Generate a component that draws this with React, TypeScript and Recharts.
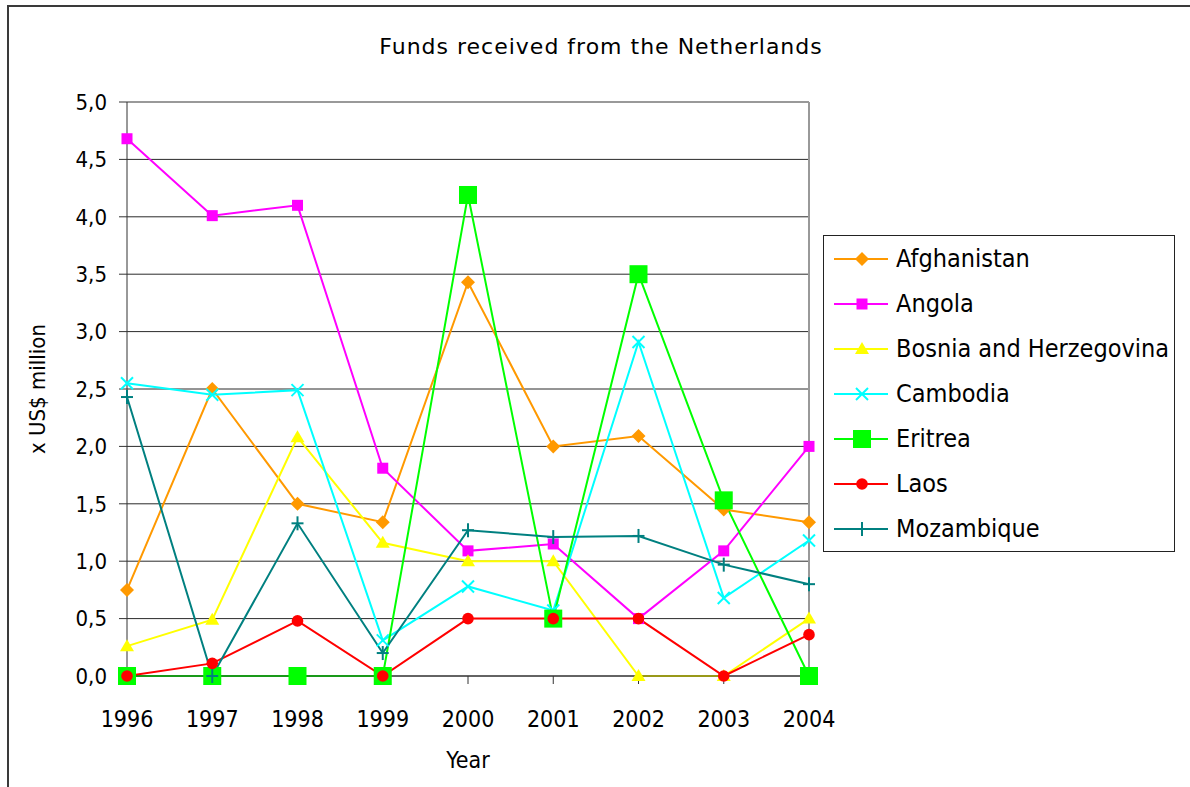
import React from 'react'
import {
  LineChart,
  Line,
  XAxis,
  YAxis,
  CartesianGrid,
  Legend,
  ReferenceLine,
} from 'recharts'

// data (x US$ million)
const years = ['1996', '1997', '1998', '1999', '2000', '2001', '2002', '2003', '2004']
const afghanistan = [0.75, 2.5, 1.5, 1.34, 3.43, 2.0, 2.09, 1.45, 1.34]
const angola = [4.68, 4.01, 4.1, 1.81, 1.09, 1.15, 0.5, 1.09, 2.0]
const bosnia = [0.26, 0.49, 2.08, 1.16, 1.0, 1.0, 0, 0, 0.5]
const cambodia = [2.55, 2.45, 2.49, 0.31, 0.78, 0.57, 2.91, 0.68, 1.18]
const eritrea = [0, 0, 0, 0, 4.19, 0.5, 3.5, 1.53, 0]
const laos = [0, 0.11, 0.48, 0, 0.5, 0.5, 0.5, 0, 0.36]
const mozambique = [2.43, 0, 1.33, 0.2, 1.27, 1.21, 1.22, 0.97, 0.8]
const yTicks = [0, 0.5, 1, 1.5, 2, 2.5, 3, 3.5, 4, 4.5, 5]

type Kind = 'diamond' | 'square' | 'triangle' | 'cross' | 'bigsquare' | 'circle' | 'plus'

const series: { key: string; name: string; color: string; marker: Kind; values: number[] }[] = [
  { key: 'afghanistan', name: 'Afghanistan', color: '#FF9900', marker: 'diamond', values: afghanistan },
  { key: 'angola', name: 'Angola', color: '#FF00FF', marker: 'square', values: angola },
  { key: 'bosnia', name: 'Bosnia and Herzegovina', color: '#FFFF00', marker: 'triangle', values: bosnia },
  { key: 'cambodia', name: 'Cambodia', color: '#00FFFF', marker: 'cross', values: cambodia },
  { key: 'eritrea', name: 'Eritrea', color: '#00FF00', marker: 'bigsquare', values: eritrea },
  { key: 'laos', name: 'Laos', color: '#FF0000', marker: 'circle', values: laos },
  { key: 'mozambique', name: 'Mozambique', color: '#008080', marker: 'plus', values: mozambique },
]

const data = years.map((year, i) => {
  const row: Record<string, string | number> = { year }
  series.forEach((s) => {
    row[s.key] = s.values[i]
  })
  return row
})

const FONT = '"DejaVu Sans Condensed", "DejaVu Sans", sans-serif'
const fmt = (v: number) => v.toFixed(1).replace('.', ',')

const Marker = ({ kind, cx, cy, color }: { kind: Kind; cx: number; cy: number; color: string }) => {
  switch (kind) {
    case 'diamond':
      return <polygon points={`${cx},${cy - 7} ${cx + 7},${cy} ${cx},${cy + 7} ${cx - 7},${cy}`} fill={color} />
    case 'square':
      return <rect x={cx - 5.5} y={cy - 5.5} width={11} height={11} fill={color} />
    case 'bigsquare':
      return <rect x={cx - 9} y={cy - 9} width={18} height={18} fill={color} />
    case 'triangle':
      return <polygon points={`${cx},${cy - 7} ${cx + 7},${cy + 5} ${cx - 7},${cy + 5}`} fill={color} />
    case 'circle':
      return <circle cx={cx} cy={cy} r={5.8} fill={color} />
    case 'cross':
      return (
        <g stroke={color} strokeWidth={2}>
          <line x1={cx - 6} y1={cy - 6} x2={cx + 6} y2={cy + 6} />
          <line x1={cx - 6} y1={cy + 6} x2={cx + 6} y2={cy - 6} />
        </g>
      )
    case 'plus':
      return (
        <g stroke={color} strokeWidth={2}>
          <line x1={cx - 6} y1={cy} x2={cx + 6} y2={cy} />
          <line x1={cx} y1={cy - 7} x2={cx} y2={cy + 7} />
        </g>
      )
  }
  return null
}

const LegendBox = (props: any) => {
  const items = (props.payload || []) as any[]
  return (
    <div
      style={{
        width: 350,
        height: 315,
        border: '1px solid #222',
        background: '#fff',
        fontFamily: FONT,
        fontSize: 25,
        color: '#000',
      }}
    >
      {items.map((it) => {
        const s = series.find((x) => x.key === it.dataKey) || series[0]
        return (
          <div key={s.key} style={{ height: 45, display: 'flex', alignItems: 'center' }}>
            <svg width={68} height={24} style={{ marginLeft: 4, flex: 'none' }}>
              <line x1={6} y1={12} x2={60} y2={12} stroke={s.color} strokeWidth={2} />
              <Marker kind={s.marker} cx={34} cy={12} color={s.color} />
            </svg>
            <span style={{ whiteSpace: 'nowrap' }}>{s.name}</span>
          </div>
        )
      })}
    </div>
  )
}

export default function App() {
  return (
    <div
      style={{
        position: 'absolute',
        left: 0,
        top: 0,
        width: 1190,
        height: 787,
        overflow: 'hidden',
        background: '#fff',
      }}
    >
      <div
        style={{
          position: 'absolute',
          left: 7,
          top: 5,
          width: 1200,
          height: 800,
          border: '2px solid #3a3a3a',
        }}
      />
      <div
        style={{
          position: 'absolute',
          left: 0,
          top: 30,
          width: 1202,
          textAlign: 'center',
          fontFamily: '"DejaVu Sans", sans-serif',
          fontSize: 22,
          letterSpacing: 1,
          lineHeight: '34px',
          color: '#000',
        }}
      >
        Funds received from the Netherlands
      </div>
      <div style={{ position: 'absolute', left: 0, top: 0 }}>
        <LineChart
          width={1190}
          height={787}
          data={data}
          margin={{ top: 102, right: 381, left: 37, bottom: 11 }}
        >
          <CartesianGrid vertical={false} stroke="#2a2a2a" strokeWidth={1} />
          <ReferenceLine y={5} stroke="#999" strokeWidth={2} />
          <ReferenceLine x="2004" stroke="#999" strokeWidth={2} />
          <XAxis
            dataKey="year"
            height={100}
            padding={{ left: 0, right: 0 }}
            stroke="#333"
            tickSize={8}
            tickMargin={27}
            tick={{ fill: '#000', fontSize: 23, fontFamily: FONT }}
            interval={0}
            label={{
              value: 'Year',
              position: 'insideBottom',
              offset: 8,
              style: { fill: '#000', fontSize: 23, fontFamily: FONT },
            }}
          />
          <YAxis
            width={90}
            domain={[0, 5]}
            ticks={yTicks}
            interval={0}
            stroke="#333"
            tickSize={8}
            tickMargin={12}
            tickFormatter={fmt}
            tick={{ fill: '#000', fontSize: 22, fontFamily: FONT }}
            label={{
              value: 'x US$ million',
              angle: -90,
              position: 'insideLeft',
              offset: 0,
              style: { textAnchor: 'middle', fill: '#000', fontSize: 22, fontFamily: FONT },
            }}
          />
          <Legend
            layout="vertical"
            align="center"
            verticalAlign="middle"
            content={<LegendBox />}
            wrapperStyle={{ position: 'absolute', left: 823, top: 235, width: 352, height: 317 }}
          />
          {series.map((s) => (
            <Line
              key={s.key}
              dataKey={s.key}
              name={s.name}
              stroke={s.color}
              strokeWidth={2}
              isAnimationActive={false}
              type="linear"
              dot={(p: any) =>
                p.cx == null ? (
                  <g key={`${s.key}-${p.index}`} />
                ) : (
                  <Marker key={`${s.key}-${p.index}`} kind={s.marker} cx={p.cx} cy={p.cy} color={s.color} />
                )
              }
              activeDot={false}
            />
          ))}
        </LineChart>
      </div>
    </div>
  )
}
